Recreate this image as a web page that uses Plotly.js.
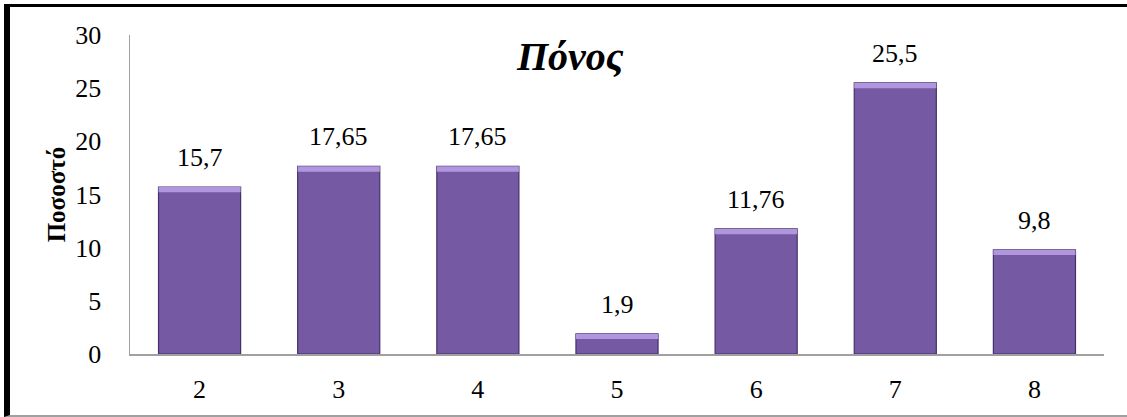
<!DOCTYPE html>
<html>
<head>
<meta charset="utf-8">
<script src="https://cdn.plot.ly/plotly-3.0.1.min.js"></script>
<style>
  html, body { margin: 0; padding: 0; background: #fff; }
  #frame {
    position: absolute; left: 4px; top: 4px; width: 1123px; height: 413px;
    border-top: 3px solid #000; border-left: 6px solid #000; border-bottom: 2px solid #a0a0a0;
    box-sizing: border-box;
  }
  #chart { position: absolute; left: 0; top: 0; width: 1127px; height: 417px; }
</style>
</head>
<body>
<div id="frame"></div>
<div id="chart"></div>
<script>
// Pain score categories and the percentage of respondents in each
const categories = ['2', '3', '4', '5', '6', '7', '8'];
const percentages = [15.7, 17.65, 17.65, 1.9, 11.76, 25.5, 9.8];
const yTicks = [0, 5, 10, 15, 20, 25, 30];

const serif = '"Liberation Serif", "Times New Roman", Times, serif';
const labels = percentages.map(v => String(v).replace('.', ','));
const bevel = 0.5; // height of the light top edge, in axis units

const bars = {
  type: 'bar',
  x: categories,
  y: percentages,
  marker: { color: '#7659a3', line: { color: '#45306a', width: 1.2 } },
  hoverinfo: 'x+y'
};

// light strip along each bar's top edge
const topEdge = {
  type: 'bar',
  x: categories,
  y: percentages.map(() => bevel),
  base: percentages.map(v => v - bevel),
  marker: { color: '#b096dc', line: { width: 0 } },
  hoverinfo: 'skip'
};

// value labels above the bars, placed by category index
const annotations = categories.map((c, i) => ({
  x: i, y: percentages[i], xref: 'x', yref: 'y',
  text: labels[i], showarrow: false, yanchor: 'bottom', yshift: 13,
  font: { family: serif, size: 26, color: '#000' }
}));

const layout = {
  width: 1127, height: 417,
  margin: { l: 130, r: 23, t: 35, b: 63 },
  paper_bgcolor: 'rgba(0,0,0,0)',
  plot_bgcolor: 'rgba(0,0,0,0)',
  showlegend: false,
  barmode: 'overlay',
  bargap: 0.41,
  title: {
    text: '<b><i>Πόνος</i></b>',
    font: { family: serif, size: 40, color: '#000' },
    x: 0.506, xref: 'container', xanchor: 'center',
    y: 0.865, yref: 'container', yanchor: 'middle'
  },
  xaxis: {
    type: 'category',
    range: [-0.5, categories.length - 0.5],
    showline: true, linecolor: '#a0a0a0', linewidth: 1.5,
    showgrid: false, zeroline: false, ticks: '',
    tickfont: { family: serif, size: 26, color: '#000' },
    ticklabelstandoff: 11
  },
  yaxis: {
    range: [0, 30],
    tickvals: yTicks,
    showline: true, linecolor: '#a0a0a0', linewidth: 1.5,
    showgrid: false, zeroline: false, ticks: '',
    tickfont: { family: serif, size: 26, color: '#000' },
    ticklabelstandoff: 22,
    title: {
      text: '<b>Ποσοστό</b>',
      font: { family: serif, size: 25, color: '#000' },
      standoff: 2
    }
  },
  annotations: annotations
};

Plotly.newPlot('chart', [bars, topEdge], layout, { displayModeBar: false, staticPlot: true });
</script>
</body>
</html>
